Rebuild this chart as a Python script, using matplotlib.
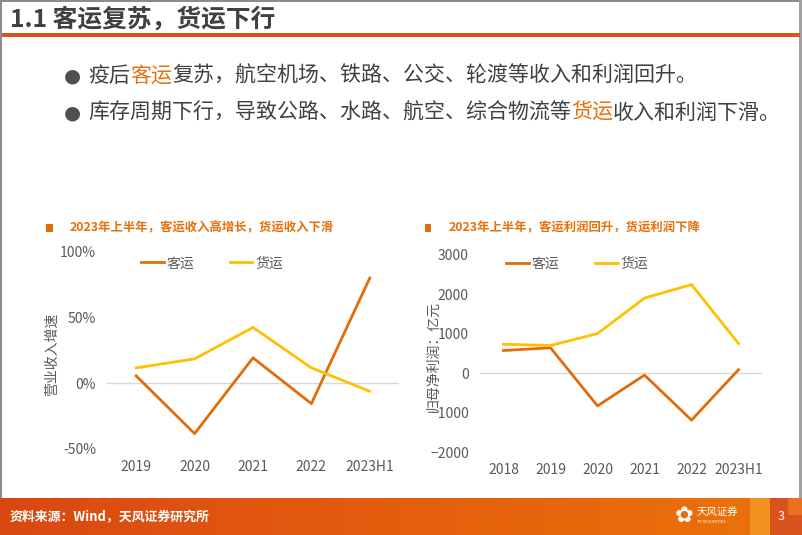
import matplotlib
matplotlib.use("Agg")
import numpy as np
import matplotlib.pyplot as plt
from matplotlib.patches import Rectangle
from matplotlib.colors import LinearSegmentedColormap
from matplotlib.ticker import FuncFormatter

plt.rcParams['font.family'] = ['Noto Sans CJK SC', 'DejaVu Sans']

# chart data
years_rev = ['2019', '2020', '2021', '2022', '2023H1']
rev_passenger = [5.6, -38.3, 19.3, -15.5, 80.0]     # 客运 营收增速 %
rev_freight = [11.7, 18.5, 42.4, 11.7, -6.1]        # 货运 营收增速 %

years_np = ['2018', '2019', '2020', '2021', '2022', '2023H1']
np_passenger = [580, 648, -824, -43, -1185, 93]     # 客运 归母净利润 亿元
np_freight = [739, 706, 1008, 1908, 2251, 756]      # 货运 归母净利润 亿元

C_PAS = '#E36C0A'
C_FRT = '#FFC000'
ORANGE = '#E8700A'
DARK = '#404040'
TICK = '#595959'

W, H = 802, 535
fig = plt.figure(figsize=(W / 100, H / 100), dpi=100)


def fx(px):
    return px / W


def fy(py):
    return 1 - py / H


def rect(x0, y0, x1, y1, color):
    # pixel coords, y from top
    fig.add_artist(Rectangle((fx(x0), fy(y1)), fx(x1) - fx(x0), fy(y0) - fy(y1),
                             transform=fig.transFigure, color=color, lw=0))


# frame, title, separator line
rect(0, 0, 2, 498, '#8C8C8C')
rect(0, 0, W, 2, '#8C8C8C')
rect(799, 0, W, 498, '#A0A0A0')
rect(2, 33, 800, 37, '#D9531E')
fig.text(fx(10), fy(19), '1.1 客运复苏，货运下行', fontsize=17.8, color=DARK,
         va='center', ha='left', fontweight='bold')

# bullets with highlighted words
renderer = fig.canvas.get_renderer()


def rich_line(x, y, parts, size):
    for txt, col in parts:
        t = fig.text(x, y, txt, fontsize=size, color=col, va='center', ha='left')
        bb = t.get_window_extent(renderer=renderer)
        x = fig.transFigure.inverted().transform((bb.x1, bb.y0))[0]


for yb, parts in [
    (76, [('疫后', DARK), ('客运', ORANGE), ('复苏，航空机场、铁路、公交、轮渡等收入和利润回升。', DARK)]),
    (113, [('库存周期下行，导致公路、水路、航空、综合物流等', DARK), ('货运', ORANGE), ('收入和利润下滑。', DARK)]),
]:
    fig.text(fx(72), fy(yb), '●', fontsize=14, color='#505050', va='center', ha='center',
             family='DejaVu Sans')
    rich_line(fx(88), fy(yb), parts, 15.1)


def subtitle(x, y, txt):
    rect(x - 3.5, y - 3.5, x + 3.5, y + 3.5, C_PAS)
    fig.text(fx(x + 21), fy(y), txt, fontsize=8.9, color=ORANGE, va='center', ha='left',
             fontweight='bold')


def style(ax, cats):
    for s in ax.spines.values():
        s.set_visible(False)
    ax.axhline(0, color='#D9D9D9', lw=1, zorder=0)
    ax.set_xticks(range(len(cats)))
    ax.set_xticklabels(cats)
    ax.set_xlim(-0.5, len(cats) - 0.5)
    ax.tick_params(length=0, labelsize=10, labelcolor=TICK)
    ax.tick_params(axis='x', pad=8)
    ax.tick_params(axis='y', pad=8)
    ax.patch.set_alpha(0)


# left chart
subtitle(49, 228, '2023年上半年，客运收入高增长，货运收入下滑')
ax1 = fig.add_axes([fx(107), fy(449), fx(399) - fx(107), fy(251.7) - fy(449)])
ax1.plot(years_rev, rev_passenger, color=C_PAS, lw=2, label='客运')
ax1.plot(years_rev, rev_freight, color=C_FRT, lw=2, label='货运')
ax1.set_ylim(-50, 100)
ax1.set_yticks([-50, 0, 50, 100])
ax1.yaxis.set_major_formatter(FuncFormatter(lambda v, p: f'{v:.0f}%'))
style(ax1, years_rev)
ax1.legend(loc='upper center', bbox_to_anchor=(0.36, 1.04), ncol=2, frameon=False,
           fontsize=10, labelcolor=TICK, handlelength=1.6, columnspacing=2.6, handletextpad=0.2)
fig.text(fx(52), fy(354), '营业收入增速', rotation=90, fontsize=10, color=TICK,
         va='center', ha='center')

# right chart
subtitle(428, 228, '2023年上半年，客运利润回升，货运利润下降')
ax2 = fig.add_axes([fx(480), fy(452.3), fx(762) - fx(480), fy(255) - fy(452.3)])
ax2.plot(years_np, np_passenger, color=C_PAS, lw=2, label='客运')
ax2.plot(years_np, np_freight, color=C_FRT, lw=2, label='货运')
ax2.set_ylim(-2000, 3000)
ax2.set_yticks(range(-2000, 3001, 1000))
style(ax2, years_np)
ax2.legend(loc='upper center', bbox_to_anchor=(0.345, 1.055), ncol=2, frameon=False,
           fontsize=10, labelcolor=TICK, handlelength=1.6, columnspacing=2.6, handletextpad=0.2)
fig.text(fx(433), fy(356), '归母净利润：亿元', rotation=90, fontsize=10, color=TICK,
         va='center', ha='center')

# footer: gradient bar plus decoration squares
bar = fig.add_axes([0, 0, 1, fy(498)])
bar.axis('off')
grad = LinearSegmentedColormap.from_list('ft', ['#DA4812', '#E45E0E', '#EC740A'])
bar.imshow(np.linspace(0, 1, 256)[None, :], aspect='auto', cmap=grad,
           extent=(0, W, 0, 37), zorder=0)
bar.set_xlim(0, W)
bar.set_ylim(0, 37)
bar.add_patch(Rectangle((750, 0), 20, 37, color='#F29020', lw=0))
bar.add_patch(Rectangle((770, 0), 32, 37, color='#D9531E', lw=0))
bar.add_patch(Rectangle((788, 20), 14, 17, color='#E87020', lw=0))
fig.text(fx(10), fy(517), '资料来源：Wind，天风证券研究所', fontsize=9.3, color='white',
         fontweight='bold', va='center', ha='left')
fig.text(fx(684), fy(516), '✿', fontsize=16, color='white', va='center', ha='center',
         family='DejaVu Sans')
fig.text(fx(697), fy(512), '天风证券', fontsize=7.5, color='white', va='center', ha='left')
fig.text(fx(697), fy(522), 'TF SECURITIES', fontsize=3, color='white', va='center', ha='left')
fig.text(fx(781), fy(516), '3', fontsize=9, color='white', va='center', ha='center')

fig.savefig('out.png', dpi=100)
